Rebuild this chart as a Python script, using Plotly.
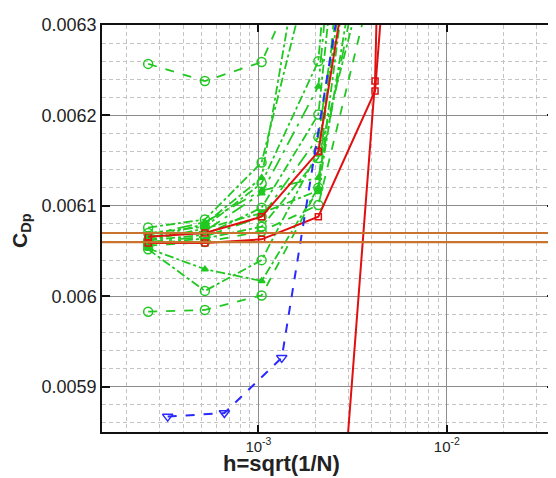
import plotly.graph_objects as go

# ---- data ----
h5 = [2.6e-4, 5.2e-4, 1.04e-3, 2.08e-3, 4.16e-3]
green_series = [
    [0.006257, 0.006238, 0.006259, 0.006400, 0.006800],
    [0.005983, 0.005985, 0.006001, 0.006120, 0.006800],
    [0.006053, 0.006030, 0.006017, 0.006120, 0.006600],
    [0.006052, 0.006006, 0.006040, 0.006160, 0.006600],
    [0.006076, 0.006085, 0.006148, 0.006400, 0.007000],
    [0.006070, 0.006077, 0.006125, 0.006260, 0.007000],
    [0.006066, 0.006072, 0.006114, 0.006232, 0.006900],
    [0.006062, 0.006068, 0.006098, 0.006201, 0.006800],
    [0.006060, 0.006066, 0.006088, 0.006176, 0.006600],
    [0.006058, 0.006064, 0.006077, 0.006153, 0.006400],
    [0.006056, 0.006060, 0.006072, 0.006101, 0.006360],
    [0.006064, 0.006080, 0.006131, 0.006500, 0.007000],
    [0.006068, 0.006082, 0.006117, 0.006131, 0.006450],
    [0.006062, 0.006075, 0.006092, 0.006117, 0.006500],
]
green_dash = ["dash", "dash", "dashdot", "dashdot", "dashdot", "dashdot", "longdashdot",
              "dashdot", "longdashdot", "dashdot", "dash", "dashdot", "longdashdot", "dashdot"]
green_sym = ["circle-open", "circle-open", "triangle-up", "circle-open", "circle-open", "circle-open",
             "triangle-up", "circle-open", "circle-open", "circle-open", "circle-open",
             "triangle-up", "triangle-up", "square"]

red_a_h = [2.6e-4, 5.2e-4, 1.04e-3, 2.08e-3, 4.16e-3]
red_a = [0.006066, 0.006070, 0.006088, 0.006160, 0.006550]
red_b_h = [2.6e-4, 5.2e-4, 1.04e-3, 2.08e-3, 4.16e-3, 8.32e-3]
red_b = [0.006059, 0.006059, 0.006063, 0.006088, 0.006227, 0.007030]
red_c_h = [2.08e-3, 4.16e-3, 8.32e-3]
red_c = [0.005420, 0.006238, 0.008900]

blue_h = [3.3e-4, 6.6e-4, 1.33e-3, 2.66e-3]
blue = [0.005867, 0.005871, 0.005932, 0.006320]

ref_lines = [0.006070, 0.006060]

x_tickvals = [1e-4, 1e-3, 1e-2]
x_ticktext = ["10<sup>-4</sup>", "10<sup>-3</sup>", "10<sup>-2</sup>"]
y_tickvals = [0.0059, 0.0060, 0.0061, 0.0062, 0.0063]
y_ticktext = ["0.0059", "0.006", "0.0061", "0.0062", "0.0063"]

GREEN = "#22c822"
RED = "#e01010"
BLUE = "#2a2aff"
ORANGE = "#c8742f"

fig = go.Figure()

for yv in ref_lines:
    fig.add_hline(y=yv, line=dict(color=ORANGE, width=2.2), layer="above")

for vals, d, s in zip(green_series, green_dash, green_sym):
    fig.add_trace(go.Scatter(
        x=h5, y=vals, mode="lines+markers",
        line=dict(color=GREEN, width=1.8, dash=d),
        marker=dict(symbol=s, size=9 if "circle" in s else 6, color=GREEN,
                    line=dict(color=GREEN, width=1.5)),
        showlegend=False))

for hx, vals in [(red_a_h, red_a), (red_b_h, red_b), (red_c_h, red_c)]:
    fig.add_trace(go.Scatter(
        x=hx, y=vals, mode="lines+markers",
        line=dict(color=RED, width=2),
        marker=dict(symbol="square-open", size=6, color=RED, line=dict(color=RED, width=1.5)),
        showlegend=False))

fig.add_trace(go.Scatter(
    x=blue_h, y=blue, mode="lines+markers",
    line=dict(color=BLUE, width=2, dash="dash"),
    marker=dict(symbol="triangle-down-open", size=9, color=BLUE, line=dict(color=BLUE, width=1.5)),
    showlegend=False))

minor_x = [m * 10.0 ** e for e in (-4, -3, -2) for m in range(2, 10)]

fig.update_layout(
    width=556, height=478,
    margin=dict(l=94, r=9, t=7, b=54),
    paper_bgcolor="white", plot_bgcolor="white",
    font=dict(family="Liberation Sans, Arial, sans-serif", color="#222"),
    showlegend=False,
    xaxis=dict(
        type="log", range=[-3.83, -1.426],
        tickmode="array", tickvals=x_tickvals, ticktext=x_ticktext,
        tickfont=dict(size=15),
        ticks="inside", ticklen=7, tickwidth=2, tickcolor="#111",
        showline=True, linecolor="#111", linewidth=1.5, mirror="ticks",
        showgrid=True, gridcolor="#8c8c8c", gridwidth=1,
        zeroline=False, ticklabeloverflow="allow",
        minor=dict(tickmode="array", tickvals=minor_x, showgrid=True,
                   gridcolor="#c4c4c4", griddash="4px,3px", gridwidth=1, ticks=""),
    ),
    yaxis=dict(
        range=[0.00585, 0.0063],
        tickmode="array", tickvals=y_tickvals, ticktext=y_ticktext,
        tickfont=dict(size=18),
        ticks="inside", ticklen=8, tickwidth=2, tickcolor="#111",
        showline=True, linecolor="#111", linewidth=1.5, mirror="ticks",
        showgrid=True, gridcolor="#8c8c8c", gridwidth=1,
        zeroline=False, ticklabeloverflow="allow",
        minor=dict(dtick=0.00002, showgrid=True, gridcolor="#c4c4c4",
                   griddash="4px,3px", gridwidth=1, ticks=""),
    ),
    annotations=[
        dict(text="<b>h=sqrt(1/N)</b>", xref="paper", yref="paper",
             x=0.396, y=0, yshift=-31, xanchor="center", yanchor="middle",
             showarrow=False, font=dict(size=22, color="#222")),
        dict(text="<b>C<sub>Dp</sub></b>", xref="paper", yref="paper",
             x=0, y=0.494, xshift=-81, xanchor="center", yanchor="middle",
             textangle=-90, showarrow=False, font=dict(size=21, color="#222")),
    ],
)

fig.write_html("out.html")
